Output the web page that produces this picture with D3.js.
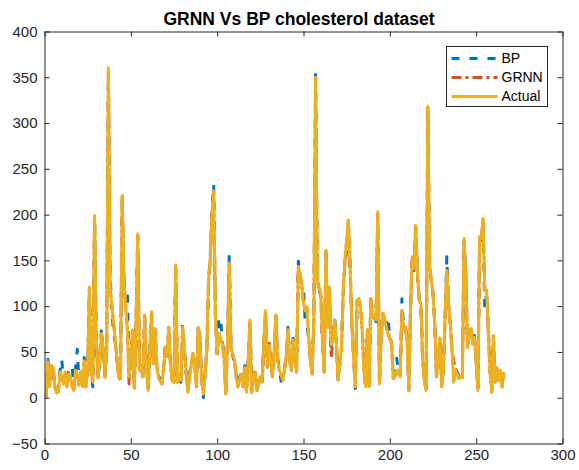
<!DOCTYPE html>
<html>
<head>
<meta charset="utf-8">
<script src="https://cdnjs.cloudflare.com/ajax/libs/d3/7.8.5/d3.min.js"></script>
<style>
    body { margin: 0; background: #fff; }
    svg { display: block; font-family: "Liberation Sans", Arial, Helvetica, sans-serif; }
</style>
</head>
<body>
<div id="vis"></div>
<script>
// size of the figure
var width = 579;
var height = 470;

// plot box (pixels)
var box = {left: 44.5, right: 562.5, top: 31.5, bottom: 443.5};

// axis ticks
var xTicks = [0, 50, 100, 150, 200, 250, 300];
var yTicks = [-50, 0, 50, 100, 150, 200, 250, 300, 350, 400];

// series names and colours
var seriesNames = ['BP', 'GRNN', 'Actual'];
var seriesColors = ['#0072BD', '#D95319', '#EDB120'];
var seriesDash = ['8,10', '10,4,3,4', null];

// actual cholesterol values (sample 1..266)
var actual = [
    0, 39, 12, 35, 33, 12, 5, 6, 28, 20,
    15, 28, 12, 26, 22, 12, 8, 30, 25, 14,
    28, 12, 40, 12, 30, 121, 30, 17, 199, 63,
    22, 40, 70, 55, 22, 50, 360, 120, 100, 82,
    62, 42, 22, 21, 221, 130, 100, 75, 23, 45,
    74, 10, 80, 179, 30, 35, 23, 90, 40, 8,
    50, 94, 37, 75, 35, 22, 18, 15, 32, 55,
    45, 77, 35, 19, 17, 145, 17, 25, 19, 77,
    52, 30, 6, 24, 35, 48, 37, 12, 77, 66,
    20, 4, 26, 50, 128, 150, 200, 226, 88, 48,
    70, 65, 59, 44, 4, 60, 147, 55, 48, 41,
    23, 12, 20, 26, 12, 33, 6, 40, 85, 6,
    20, 28, 8, 15, 23, 17, 60, 95, 33, 57,
    40, 23, 50, 90, 41, 30, 25, 19, 30, 44,
    74, 40, 30, 63, 45, 28, 143, 135, 123, 103,
    95, 99, 66, 40, 26, 88, 350, 128, 120, 114,
    60, 28, 161, 77, 121, 58, 62, 85, 63, 19,
    35, 55, 117, 150, 172, 194, 143, 81, 44, 12,
    106, 108, 100, 74, 30, 12, 74, 12, 108, 88,
    90, 85, 203, 15, 70, 92, 85, 77, 70, 65,
    59, 21, 24, 30, 26, 23, 95, 74, 77, 63,
    8, 99, 154, 141, 188, 136, 106, 103, 40, 19,
    8, 318, 143, 130, 114, 81, 23, 40, 65, 12,
    30, 88, 139, 100, 81, 52, 17, 30, 26, 21,
    23, 22, 174, 136, 55, 74, 75, 59, 66, 40,
    8, 176, 174, 196, 117, 117, 74, 30, 6, 68,
    17, 33, 19, 30, 12, 28
];

// BP network prediction
var bp = [
    2, 42, 15, 37, 31, 14, 7, 9, 30, 42,
    17, 30, 14, 28, 30, 35, 10, 33, 53, 16,
    30, 15, 44, 14, 32, 118, 28, 12, 196, 60,
    20, 42, 76, 52, 24, 52, 358, 135, 95, 70,
    60, 40, 24, 19, 218, 128, 117, 115, 25, 43,
    72, 12, 78, 176, 33, 37, 21, 88, 42, 10,
    48, 92, 39, 73, 37, 24, 20, 17, 34, 58,
    47, 75, 37, 21, 15, 142, 19, 27, 17, 80,
    54, 28, 8, 26, 37, 46, 39, 10, 75, 68,
    22, 0, 28, 52, 125, 155, 205, 233, 90, 46,
    88, 85, 62, 46, 6, 62, 157, 57, 46, 38,
    25, 14, 22, 28, 14, 35, 8, 42, 83, 8,
    22, 30, 10, 17, 21, 19, 58, 93, 35, 55,
    42, 25, 48, 88, 43, 32, 18, 21, 32, 46,
    77, 42, 32, 65, 47, 30, 149, 133, 121, 120,
    82, 80, 64, 42, 28, 86, 353, 126, 118, 112,
    62, 30, 158, 79, 119, 56, 64, 88, 65, 21,
    37, 57, 115, 148, 160, 191, 140, 83, 46, 10,
    104, 106, 98, 76, 32, 14, 72, 14, 112, 90,
    88, 83, 200, 13, 72, 90, 83, 79, 88, 63,
    61, 23, 26, 43, 28, 25, 108, 76, 75, 65,
    10, 97, 151, 139, 185, 134, 108, 101, 42, 21,
    10, 315, 141, 128, 116, 83, 25, 42, 65, 14,
    32, 90, 154, 102, 83, 54, 19, 32, 28, 23,
    25, 24, 171, 134, 57, 76, 73, 62, 68, 42,
    10, 173, 172, 185, 95, 115, 76, 32, 8, 66,
    15, 35, 21, 28, 14, 26
];

// GRNN prediction
var grnn = [
    0, 38, 13, 35, 32, 12, 6, 7, 28, 21,
    15, 27, 13, 26, 22, 12, 9, 30, 24, 14,
    28, 13, 40, 12, 30, 120, 30, 17, 198, 63,
    22, 40, 70, 55, 23, 50, 358, 121, 100, 82,
    62, 42, 22, 21, 220, 130, 100, 75, 15, 45,
    74, 11, 80, 178, 30, 35, 23, 90, 40, 9,
    50, 93, 37, 75, 35, 22, 18, 15, 32, 55,
    45, 77, 35, 19, 17, 144, 17, 25, 19, 77,
    52, 30, 7, 24, 35, 48, 37, 12, 77, 66,
    20, 5, 26, 50, 128, 150, 200, 225, 88, 48,
    70, 65, 59, 44, 5, 60, 146, 55, 48, 41,
    23, 12, 20, 26, 12, 33, 7, 40, 85, 6,
    20, 28, 8, 15, 23, 17, 60, 95, 33, 63,
    40, 23, 50, 90, 41, 30, 25, 19, 30, 44,
    74, 40, 30, 63, 45, 28, 143, 135, 123, 103,
    95, 99, 66, 40, 26, 88, 349, 128, 120, 114,
    60, 28, 160, 77, 121, 44, 62, 85, 63, 19,
    35, 55, 117, 150, 172, 193, 143, 81, 44, 12,
    106, 108, 100, 74, 30, 12, 74, 12, 108, 88,
    90, 85, 202, 15, 70, 92, 85, 77, 70, 65,
    59, 21, 24, 30, 26, 23, 95, 74, 77, 63,
    8, 99, 154, 141, 187, 136, 106, 103, 40, 19,
    8, 317, 143, 130, 114, 81, 23, 40, 65, 12,
    30, 88, 139, 100, 81, 52, 40, 30, 26, 21,
    23, 22, 173, 136, 55, 74, 75, 59, 66, 40,
    8, 175, 174, 195, 117, 117, 74, 30, 6, 68,
    17, 33, 19, 30, 12, 28
];

var axisColor = '#262626';

// scales
var x = d3.scaleLinear().domain([0, 300]).range([box.left, box.right]);
var y = d3.scaleLinear().domain([-50, 400]).range([box.bottom, box.top]);

var svg = d3.select('#vis')
    .append('svg')
    .attr('width', width)
    .attr('height', height);

svg.append('rect')
    .attr('width', width)
    .attr('height', height)
    .attr('fill', '#fff');

// clip the lines to the plot box
svg.append('clipPath')
    .attr('id', 'plotclip')
    .append('rect')
    .attr('x', box.left)
    .attr('y', box.top)
    .attr('width', box.right - box.left)
    .attr('height', box.bottom - box.top);

// lines, drawn in MATLAB order (BP, GRNN, Actual on top)
var line = d3.line()
    .x(function (d, i) { return x(i + 1); })
    .y(function (d) { return y(d); });

var series = [bp, grnn, actual];
var plot = svg.append('g').attr('clip-path', 'url(#plotclip)');

series.forEach(function (values, k) {
    plot.append('path')
        .datum(values)
        .attr('d', line)
        .attr('fill', 'none')
        .attr('stroke', seriesColors[k])
        .attr('stroke-width', 3)
        .attr('stroke-linejoin', 'round')
        .attr('stroke-dasharray', seriesDash[k]);
});

// axes with inward ticks, box on
function styleAxis(g) {
    g.select('.domain').attr('stroke', axisColor);
    g.selectAll('.tick line').attr('stroke', axisColor);
    g.selectAll('.tick text')
        .attr('fill', axisColor)
        .style('font-size', '15px')
        .style('font-family', '"Liberation Sans", Arial, sans-serif');
}

svg.append('g')
    .attr('transform', 'translate(0,' + box.bottom + ')')
    .call(d3.axisBottom(x).tickValues(xTicks).tickSizeInner(-5).tickSizeOuter(0).tickPadding(6))
    .call(styleAxis);

svg.append('g')
    .attr('transform', 'translate(0,' + box.top + ')')
    .call(d3.axisTop(x).tickValues(xTicks).tickSizeInner(-5).tickSizeOuter(0).tickFormat(''))
    .call(styleAxis);

svg.append('g')
    .attr('transform', 'translate(' + box.left + ',0)')
    .call(d3.axisLeft(y).tickValues(yTicks).tickSizeInner(-5).tickSizeOuter(0).tickPadding(7))
    .call(styleAxis);

svg.append('g')
    .attr('transform', 'translate(' + box.right + ',0)')
    .call(d3.axisRight(y).tickValues(yTicks).tickSizeInner(-5).tickSizeOuter(0).tickFormat(''))
    .call(styleAxis);

// title
svg.append('text')
    .attr('x', 299)
    .attr('y', 25)
    .attr('text-anchor', 'middle')
    .attr('fill', '#000')
    .style('font-size', '17.5px')
    .style('font-weight', 'bold')
    .text('GRNN Vs BP cholesterol dataset');

// legend
var legend = {left: 446.5, top: 46.5, width: 101, height: 60};
var lg = svg.append('g');

lg.append('rect')
    .attr('x', legend.left)
    .attr('y', legend.top)
    .attr('width', legend.width)
    .attr('height', legend.height)
    .attr('fill', '#fff')
    .attr('stroke', axisColor)
    .attr('stroke-width', 1);

seriesNames.forEach(function (name, k) {
    var rowY = legend.top + 12 + k * 19;
    lg.append('line')
        .attr('x1', legend.left + 5)
        .attr('x2', legend.left + 51)
        .attr('y1', rowY)
        .attr('y2', rowY)
        .attr('stroke', seriesColors[k])
        .attr('stroke-width', 3)
        .attr('stroke-dasharray', seriesDash[k]);
    lg.append('text')
        .attr('x', legend.left + 55)
        .attr('y', rowY)
        .attr('dy', '0.35em')
        .attr('fill', '#000')
        .style('font-size', '14px')
        .text(name);
});
</script>
</body>
</html>
